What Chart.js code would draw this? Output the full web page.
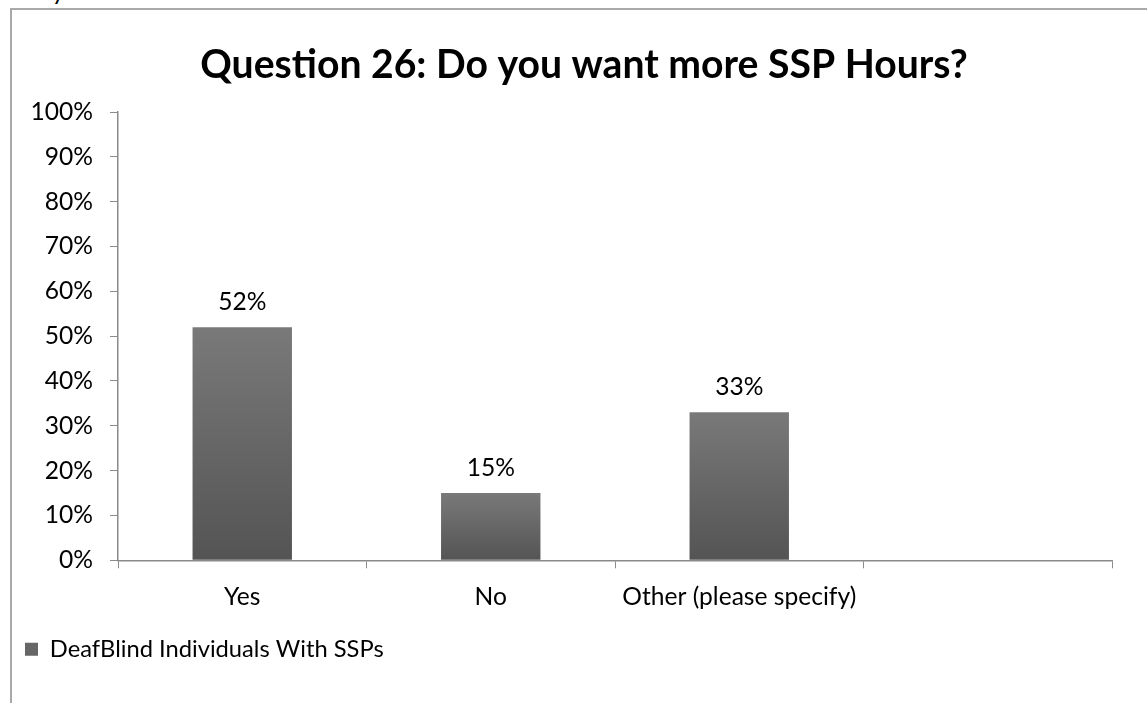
<!DOCTYPE html>
<html>
<head>
<meta charset="utf-8">
<title>Question 26: Do you want more SSP Hours?</title>
<script src="https://cdn.jsdelivr.net/npm/chart.js@4.4.1/dist/chart.umd.min.js"></script>
<style>
  html, body { margin: 0; padding: 0; background: #fff; }
  #wrap { position: relative; width: 1147px; height: 703px; overflow: hidden; background: #fff; }
  #frame { position: absolute; left: 10px; top: 8px; width: 1200px; height: 800px;
           border-left: 2px solid #a9a9a9; border-top: 2px solid #a9a9a9; box-sizing: border-box; }
  #snip { position: absolute; left: 52px; top: -24px; font: 24px Lato, sans-serif; color: #000; line-height: normal; }
  canvas { position: absolute; left: 0; top: 0; }
</style>
</head>
<body>
<div id="wrap">
  <div id="snip">y</div>
  <div id="frame"></div>
  <canvas id="chart" width="1147" height="703"></canvas>
</div>
<script>
// Survey answers
const categories = ['Yes', 'No', 'Other (please specify)', ''];
const shares = [52, 15, 33, null];          // percent of respondents
const seriesName = 'DeafBlind Individuals With SSPs';
const titleText = 'Question 26: Do you want more SSP Hours?';
const yMin = 0, yMax = 100, yStep = 10;

const FONT = 'Lato';
const AXIS_GREY = '#8a8a8a';

// Pick font sizes so each text block runs as wide as in the layout
function sizeForWidth(text, weight, targetWidth) {
  const c = document.createElement('canvas').getContext('2d');
  c.font = weight + ' 100px ' + FONT;
  return 100 * targetWidth / c.measureText(text).width;
}
const bodySize = sizeForWidth('Other (please specify)', 'normal', 234);
const legendSize = sizeForWidth(seriesName, 'normal', 334);
const titleSize = sizeForWidth(titleText, 'bold', 768);

Chart.defaults.font.family = FONT;
Chart.defaults.color = '#000';

// Per-bar vertical gradient (lighter at the top)
function barFill(ctx) {
  const chart = ctx.chart;
  const v = ctx.raw;
  if (!chart.chartArea || v == null || !chart.scales.y) return '#666666';
  const yTop = chart.scales.y.getPixelForValue(v);
  const yBot = chart.scales.y.getPixelForValue(0);
  if (!isFinite(yTop) || !isFinite(yBot) || yTop === yBot) return '#666666';
  const g = chart.ctx.createLinearGradient(0, yTop, 0, yBot);
  g.addColorStop(0, '#797979');
  g.addColorStop(1, '#545454');
  return g;
}

// Chart heading, centred over the whole frame
const heading = {
  id: 'heading',
  afterDraw(chart) {
    const c = chart.ctx;
    c.save();
    c.font = 'bold ' + titleSize + 'px ' + FONT;
    c.fillStyle = '#000';
    c.textAlign = 'center';
    c.textBaseline = 'alphabetic';
    c.fillText(titleText, 584, 78);
    c.restore();
  }
};

// Percent labels above each bar
const valueLabels = {
  id: 'valueLabels',
  afterDatasetsDraw(chart) {
    const c = chart.ctx;
    const meta = chart.getDatasetMeta(0);
    c.save();
    c.font = bodySize + 'px ' + FONT;
    c.fillStyle = '#000';
    c.textAlign = 'center';
    c.textBaseline = 'alphabetic';
    meta.data.forEach((bar, i) => {
      const v = chart.data.datasets[0].data[i];
      if (v == null) return;
      c.fillText(v + '%', bar.x, bar.y - 17);
    });
    c.restore();
  }
};

new Chart(document.getElementById('chart'), {
  type: 'bar',
  data: {
    labels: categories,
    datasets: [{
      label: seriesName,
      data: shares,
      backgroundColor: barFill,
      borderWidth: 0,
      barPercentage: 0.4,
      categoryPercentage: 1.0
    }]
  },
  options: {
    responsive: false,
    animation: false,
    devicePixelRatio: 1,
    layout: { padding: { left: 17, right: 35, top: 112, bottom: 32 } },
    plugins: {
      title: { display: false },
      legend: {
        display: true,
        position: 'bottom',
        align: 'start',
        labels: {
          boxWidth: 13,
          boxHeight: 13,
          padding: 8,
          color: '#000',
          font: { family: FONT, size: legendSize },
          generateLabels() {
            return [{
              text: seriesName,
              fillStyle: '#666666',
              strokeStyle: '#666666',
              lineWidth: 0,
              datasetIndex: 0,
              hidden: false
            }];
          }
        }
      },
      tooltip: { enabled: false }
    },
    scales: {
      x: {
        type: 'category',
        grid: {
          display: true,
          offset: true,
          drawOnChartArea: false,
          drawTicks: true,
          tickLength: 8,
          color: AXIS_GREY
        },
        border: { display: true, color: AXIS_GREY, width: 1.5 },
        ticks: {
          color: '#000',
          font: { family: FONT, size: bodySize },
          padding: 14,
          maxRotation: 0,
          autoSkip: false
        },
        afterFit(scale) { scale.height = 69; }
      },
      y: {
        min: yMin,
        max: yMax,
        grid: {
          display: true,
          drawOnChartArea: false,
          drawTicks: true,
          tickLength: 8,
          color: AXIS_GREY
        },
        border: { display: true, color: AXIS_GREY, width: 1.5 },
        ticks: {
          stepSize: yStep,
          color: '#000',
          font: { family: FONT, size: bodySize },
          padding: 17,
          callback: (v) => v + '%'
        },
        afterFit(scale) { scale.width = 101; }
      }
    }
  },
  plugins: [valueLabels, heading]
});
</script>
</body>
</html>
